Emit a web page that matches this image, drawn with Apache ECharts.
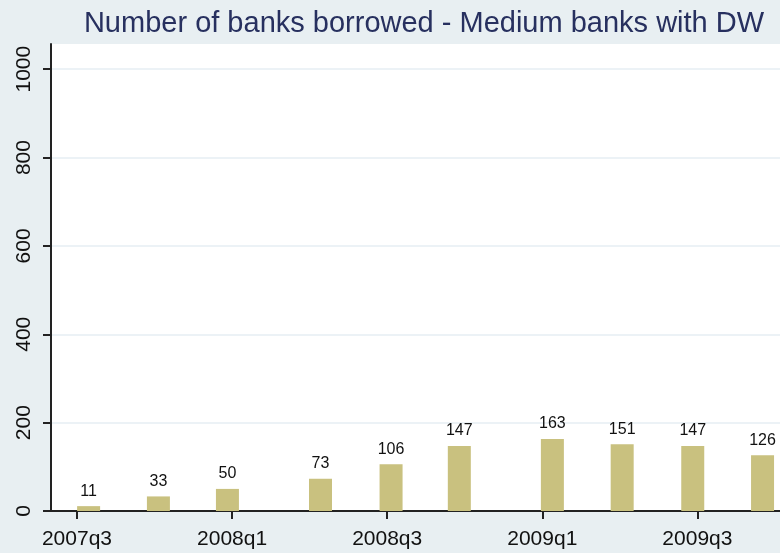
<!DOCTYPE html>
<html>
<head>
<meta charset="utf-8">
<script src="https://cdn.jsdelivr.net/npm/echarts@6/dist/echarts.min.js"></script>
<style>
  html, body { margin: 0; padding: 0; background: #e8eff2; }
  #chart { width: 780px; height: 553px; }
</style>
</head>
<body>
<div id="chart"></div>
<script>
// quarter index: 0 = 2007q3, 1 = 2007q4, ...
var tickPos = [0, 2, 4, 6, 8];
var tickLabels = ['2007q3', '2008q1', '2008q3', '2009q1', '2009q3'];
var yTicks = [0, 200, 400, 600, 800, 1000];
// bar positions (in quarters) and number of banks
var barPos = [0.15, 1.05, 1.94, 3.14, 4.05, 4.93, 6.13, 7.03, 7.94, 8.84];
var banks = [11, 33, 50, 73, 106, 147, 163, 151, 147, 126];

var myChart = echarts.init(document.getElementById('chart'));

var seriesData = barPos.map(function (x, i) { return [x, banks[i]]; });

option = {
    backgroundColor: '#e8eff2',
    animation: false,
    title: {
        text: 'Number of banks borrowed - Medium banks with DW',
        left: 419,
        top: 4,
        textAlign: 'center',
        textStyle: {
            fontFamily: 'Liberation Sans',
            fontSize: 29,
            fontWeight: 'normal',
            color: '#27305f'
        }
    },
    grid: {
        left: 51,
        right: 0,
        top: 44,
        bottom: 42,
        show: true,
        backgroundColor: '#ffffff',
        borderWidth: 0
    },
    xAxis: {
        type: 'value',
        min: -0.335,
        max: 9.065,
        axisLine: { show: true, onZero: false, lineStyle: { color: '#222', width: 2 } },
        axisTick: {
            show: true,
            length: 8,
            customValues: tickPos,
            lineStyle: { color: '#222', width: 2 }
        },
        axisLabel: {
            customValues: tickPos,
            margin: 18,
            fontFamily: 'Liberation Sans',
            fontSize: 21,
            color: '#111',
            formatter: function (v) {
                var i = tickPos.indexOf(Math.round(v));
                return i >= 0 ? tickLabels[i] : '';
            }
        },
        splitLine: { show: false }
    },
    yAxis: {
        type: 'value',
        min: 0,
        max: 1057,
        interval: 200,
        axisLine: { show: true, onZero: false, lineStyle: { color: '#222', width: 2 } },
        axisTick: {
            show: true,
            length: 8,
            customValues: yTicks,
            lineStyle: { color: '#222', width: 2 }
        },
        axisLabel: {
            customValues: yTicks,
            rotate: 90,
            margin: 16,
            fontFamily: 'Liberation Sans',
            fontSize: 21,
            color: '#111',
            formatter: function (v) { return String(v); }
        },
        splitLine: { show: true, lineStyle: { color: '#e6eef3', width: 1.5 } }
    },
    series: [
        {
            name: 'banks',
            type: 'bar',
            barWidth: 23,
            data: seriesData,
            itemStyle: { color: '#c9c17f' },
            label: {
                show: true,
                position: 'top',
                distance: 7,
                fontFamily: 'Liberation Sans',
                fontSize: 16,
                color: '#111',
                formatter: function (p) { return p.value[1]; }
            }
        }
    ]
};

myChart.setOption(option, true);
</script>
</body>
</html>
